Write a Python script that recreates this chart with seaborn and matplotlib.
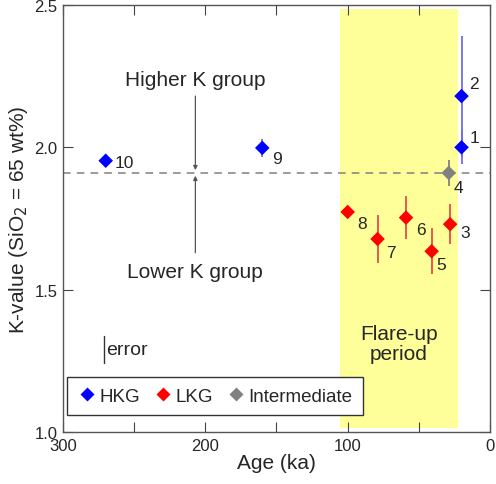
import pandas as pd
import matplotlib
matplotlib.use("Agg")
import matplotlib.pyplot as plt
import seaborn as sns
import numpy as np

# sample data
labels = ["1", "2", "3", "4", "5", "6", "7", "8", "9", "10"]
age = [20, 20, 28, 29, 41, 59, 79, 100, 160, 270]
kval = [2.00, 2.18, 1.73, 1.91, 1.635, 1.753, 1.678, 1.773, 1.998, 1.953]
kerr = [0.06, 0.21, 0.07, 0.046, 0.08, 0.075, 0.086, 0.0, 0.033, 0.0]
group = ["HKG", "HKG", "LKG", "Intermediate", "LKG", "LKG", "LKG", "LKG", "HKG", "HKG"]
# label offsets in pixels (dx, dy)
offsets = [(8, 10), (8, 13), (10, -8), (5, -15), (5, -13), (10, -12), (9, -14), (10, -12), (10, -11), (9, -2)]

flare_start, flare_end = 105.5, 22.5
flare_bottom, flare_top = 1.013, 2.487
boundary_k = 1.91
arrow_age = 207
err_age, err_center, err_half = 271, 1.29, 0.048

colors = {"HKG": "#0000ff", "LKG": "#ff0000", "Intermediate": "#808080"}
err_colors = {"HKG": "#6f6fe6", "LKG": "#e64a4a", "Intermediate": "#808080"}

df = pd.DataFrame({"label": labels, "age": age, "k": kval, "err": kerr, "group": group})

sns.set_style("ticks")
plt.rcParams["font.family"] = ["Liberation Sans", "DejaVu Sans"]

fig = plt.figure(figsize=(4.96, 4.85), dpi=100)
ax = fig.add_axes([63 / 496, 1 - 433 / 485, 427 / 496, 427 / 485])

ax.fill_between([flare_end, flare_start], flare_bottom, flare_top, color="#ffff99", lw=0, zorder=0)
ax.axhline(boundary_k, color="#808080", ls=(0, (5, 4)), lw=1.1, zorder=1)

for g in ["HKG", "LKG", "Intermediate"]:
    sub = df[(df.group == g) & (df.err > 0)]
    ax.errorbar(sub.age, sub.k, yerr=sub.err, fmt="none", ecolor=err_colors[g], elinewidth=1.3, capsize=0, zorder=2)

sns.scatterplot(data=df, x="age", y="k", hue="group", palette=colors, marker="D", s=55,
                edgecolor="none", hue_order=["HKG", "LKG", "Intermediate"], ax=ax, zorder=3)

for lab, x, y, (dx, dy) in zip(labels, age, kval, offsets):
    ax.annotate(lab, (x, y), xytext=(dx, dy), textcoords="offset pixels", fontsize=12.5,
                ha="left", va="center")

# arrows between groups
ax.annotate("", xy=(arrow_age, boundary_k), xytext=(arrow_age, 2.19),
            arrowprops=dict(arrowstyle="-|>", color="#555555", lw=0.9, mutation_scale=6))
ax.annotate("", xy=(arrow_age, boundary_k), xytext=(arrow_age, 1.62),
            arrowprops=dict(arrowstyle="-|>", color="#555555", lw=0.9, mutation_scale=6))
ax.text(arrow_age, 2.24, "Higher K group", ha="center", va="center", fontsize=15)
ax.text(arrow_age, 1.563, "Lower K group", ha="center", va="center", fontsize=15)

ax.text(64, 1.31, "Flare-up\nperiod", ha="center", va="center", fontsize=15, linespacing=1.05)

# error scale
ax.plot([err_age, err_age], [err_center - err_half, err_center + err_half], color="#333333", lw=1)
ax.text(err_age - 1.5, err_center, "error", ha="left", va="center", fontsize=14)

ax.set_xlim(300, 0)
ax.set_ylim(1.0, 2.5)
ax.set_xticks([300, 200, 100, 0])
ax.set_xticks([250, 150, 50], minor=True)
ax.set_yticks([1.0, 1.5, 2.0, 2.5])
ax.set_xlabel("Age (ka)", fontsize=15, labelpad=0)
ax.set_ylabel(r"K-value (SiO$_2$ = 65 wt%)", fontsize=15, labelpad=3)
ax.tick_params(which="both", direction="in", length=7, width=0.8, color="#444444",
               top=True, right=True, labelsize=12, pad=4)
for sp in ax.spines.values():
    sp.set_color("#555555")
    sp.set_linewidth(1)

leg = ax.legend(loc="lower left", ncol=3, fontsize=13.5, frameon=True, fancybox=False,
                edgecolor="#333333", handletextpad=0.15, columnspacing=0.75, borderpad=0.55,
                handlelength=1.0, borderaxespad=0, bbox_to_anchor=(0.01, 0.04))
leg.get_frame().set_linewidth(1)
leg.get_frame().set_alpha(1)

fig.savefig("out.png", dpi=100)
